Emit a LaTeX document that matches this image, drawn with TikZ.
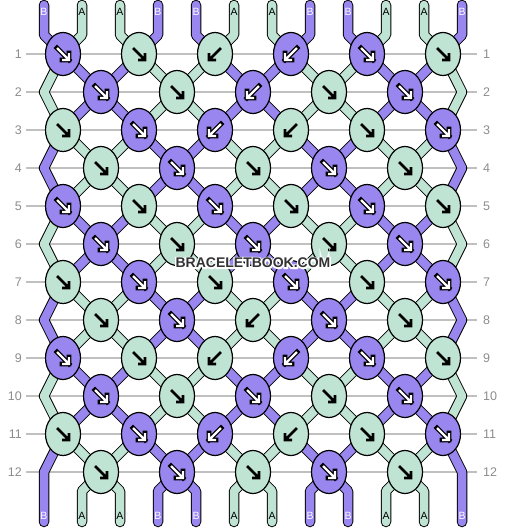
\documentclass[tikz,border=0pt]{standalone}
\usepackage{fontspec}
\setsansfont{Liberation Sans}
\newfontfamily\randschrift[FakeBold=20]{Liberation Sans Bold}
\usetikzlibrary{shapes.geometric}

\definecolor{lila}{RGB}{154,134,239}
\definecolor{mint}{RGB}{192,228,212}
\definecolor{linie}{RGB}{192,192,192}
\definecolor{zahl}{RGB}{140,140,140}
\definecolor{marke}{RGB}{51,51,51}

\tikzset{
  knoten/.style={draw, fill=#1, shape=ellipse, line width=1.2pt,
    minimum width=35pt, minimum height=43pt, inner sep=0pt},
  strang/.style={line width=1pt, double=#1, double distance=8.5pt,
    line join=round, line cap=round},
  zeile/.style={text=zahl, font=\sffamily\fontsize{12.5}{12.5}\selectfont, inner sep=0pt},
  buchstabe/.style={font=\sffamily\fontsize{10.5}{10.5}\selectfont, inner sep=0pt},
  ende lila/.style={buchstabe, text=white},
  ende mint/.style={buchstabe, text=black},
  rand lila/.style={black, line width=4.8pt, line cap=rect},
  rand mint/.style={draw=none},
  spitze lila/.style={white, line width=2.4pt},
  spitze mint/.style={black, line width=2.6pt},
  schrift/.style={font=\sffamily\bfseries\fontsize{14}{14}\selectfont, inner sep=0pt},
}

% Knoten je Reihe: Farbe/Richtung (1 = nach rechts, -1 = nach links)
\def\muster{1/{lila/1,mint/1,mint/-1,lila/-1,lila/1,mint/1},
  2/{lila/1,mint/1,lila/-1,mint/1,lila/1},
  3/{mint/1,lila/1,lila/-1,mint/-1,mint/1,lila/1},
  4/{mint/1,lila/1,mint/1,lila/1,mint/1},
  5/{lila/1,mint/1,lila/1,mint/1,lila/1,mint/1},
  6/{lila/1,mint/1,lila/1,mint/1,lila/1},
  7/{mint/1,lila/1,mint/1,lila/1,mint/1,lila/1},
  8/{mint/1,lila/1,mint/-1,lila/1,mint/1},
  9/{lila/1,mint/1,mint/-1,lila/-1,lila/1,mint/1},
  10/{lila/1,mint/1,lila/1,mint/1,lila/1},
  11/{mint/1,lila/1,lila/-1,mint/-1,mint/1,lila/1},
  12/{mint/1,lila/1,mint/1,lila/1,mint/1}}
\def\faeden{1/lila/B,2/mint/A,3/mint/A,4/lila/B,5/lila/B,6/mint/A,
  7/mint/A,8/lila/B,9/lila/B,10/mint/A,11/mint/A,12/lila/B}

\begin{document}
\begin{tikzpicture}[x=1pt, y=-1pt]
    \useasboundingbox (0,0) rectangle (506,528);

    % Reihen mit Nummern
    \foreach \r in {1,...,12} {
        \node[zeile, anchor=east] (l\r) at (22, {54+38*(\r-1)}) {\r};
        \node[zeile, anchor=west] (r\r) at (483, {54+38*(\r-1)}) {\r};
        \draw[linie, line width=1.2pt, shorten <=4pt, shorten >=6pt] (l\r.east) -- (r\r.west);
        \coordinate (zl\r) at (44, {54+38*\r});
        \coordinate (zr\r) at (462, {54+38*\r});
    }

    % Knotenpunkte
    \foreach \r/\liste in \muster
        \foreach \f/\d [count=\c] in \liste
            \coordinate (k\r-\c) at ({ifthenelse(isodd(\r),63,101)+76*(\c-1)}, {54+38*(\r-1)});

    % Fadenenden
    \foreach \i in {1,...,12} {
        \coordinate (o\i) at ({44+38*(\i-1)}, 5);
        \coordinate (ob\i) at ({44+38*(\i-1)}, 35);
        \coordinate (ub\i) at ({44+38*(\i-1)}, 491);
        \coordinate (u\i) at ({44+38*(\i-1)}, 522);
    }
    \coordinate (ub1) at (44, 472);
    \coordinate (ub12) at (462, 472);

    \foreach \i/\f/\t in \faeden {
        \pgfmathtruncatemacro\c{(\i+1)/2}
        \draw[strang=\f] (o\i) -- (ob\i) -- (k1-\c);
    }
    \foreach \i/\f/\t in \faeden {
        \ifnum\i=1
            \draw[strang=\f] (k11-1) -- (ub\i) -- (u\i);
        \else\ifnum\i=12
            \draw[strang=\f] (k11-6) -- (ub\i) -- (u\i);
        \else
            \pgfmathtruncatemacro\c{\i/2}
            \draw[strang=\f] (k12-\c) -- (ub\i) -- (u\i);
        \fi\fi
    }

    % Randfaeden
    \foreach \r/\f in {1/mint, 3/lila, 5/mint, 7/lila, 9/mint} {
        \pgfmathtruncatemacro\u{\r+2}
        \draw[strang=\f] (k\r-1) -- (zl\r) -- (k\u-1);
        \draw[strang=\f] (k\r-6) -- (zr\r) -- (k\u-6);
    }

    % Faeden zwischen den Knoten
    \foreach \r/\liste in \muster {
        \ifodd\r\else
            \foreach \f/\d [count=\c] in \liste {
                \pgfmathtruncatemacro\o{\r-1}
                \pgfmathtruncatemacro\cc{\c+1}
                \draw[strang=\f] (k\o-\c) -- (k\r-\c) -- (k\o-\cc);
                \ifnum\r<12
                    \pgfmathtruncatemacro\u{\r+1}
                    \draw[strang=\f] (k\u-\c) -- (k\r-\c) -- (k\u-\cc);
                \fi
            }
        \fi
    }

    % Knoten mit Pfeilen
    \foreach \r/\liste in \muster
        \foreach \f/\d [count=\c] in \liste {
            \node[knoten=\f] (n\r-\c) at (k\r-\c) {};
            \draw[rand \f, shift={(k\r-\c)}, xscale=\d] (-6,-6) -- (6,6) (6,-1) -- (6,6) -- (-1,6);
            \draw[spitze \f, shift={(k\r-\c)}, xscale=\d] (-6,-6) -- (6,6) (6,-1) -- (6,6) -- (-1,6);
        }

    % Buchstaben
    \foreach \i/\f/\t in \faeden {
        \node[ende \f] (a\i) at ([yshift=-7pt]o\i) {\t};
        \node[ende \f] (b\i) at ([yshift=6pt]u\i) {\t};
    }

    % Schriftzug
    \node[schrift, text=white, font=\randschrift\fontsize{14}{14}\selectfont] at (253,263) {BRACELETBOOK.COM};
    \node[schrift, text=marke] (marke) at (253,263) {BRACELETBOOK.COM};
\end{tikzpicture}
\end{document}
